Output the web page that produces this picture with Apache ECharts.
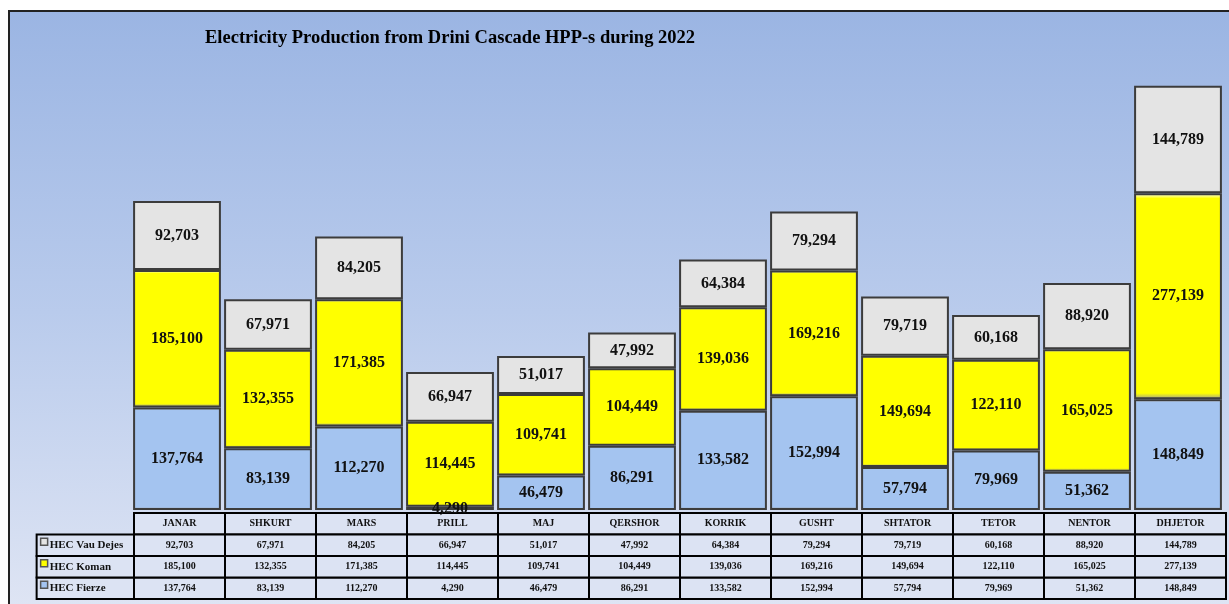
<!DOCTYPE html>
<html>
<head>
<meta charset="utf-8">
<script src="https://cdn.jsdelivr.net/npm/echarts@6/dist/echarts.min.js"></script>
<style>
  html, body { margin: 0; padding: 0; background: #fff; }
  #frame {
    position: absolute; left: 8px; top: 10px; width: 1230px; height: 600px;
    border-left: 2px solid #222; border-top: 2px solid #222;
    background: linear-gradient(#9bb5e3, #b9cbec 50%, #dfe5f4);
  }
  #chart { position: absolute; left: 0; top: 0; width: 1229px; height: 604px; }
</style>
</head>
<body>
<div id="frame"></div>
<div id="chart"></div>
<script>
// monthly production (MWh) per plant
const months = ['JANAR', 'SHKURT', 'MARS', 'PRILL', 'MAJ', 'QERSHOR', 'KORRIK', 'GUSHT', 'SHTATOR', 'TETOR', 'NENTOR', 'DHJETOR'];
const fierze = [137764, 83139, 112270, 4290, 46479, 86291, 133582, 152994, 57794, 79969, 51362, 148849];
const koman = [185100, 132355, 171385, 114445, 109741, 104449, 139036, 169216, 149694, 122110, 165025, 277139];
const vauDejes = [92703, 67971, 84205, 66947, 51017, 47992, 64384, 79294, 79719, 60168, 88920, 144789];
const names = ['HEC Fierze', 'HEC Koman', 'HEC Vau Dejes'];
const colors = ['#a4c4f0', '#ffff00', '#e4e4e4'];

const fmt = v => v.toLocaleString('en-US');
const serif = '"Liberation Serif", "Times New Roman", serif';

function bevel(base) {
    return new echarts.graphic.LinearGradient(0, 0, 0, 1, [
        { offset: 0, color: '#ffffff' },
        { offset: 0.025, color: base },
        { offset: 0.97, color: base },
        { offset: 1, color: '#9a9a9a' }
    ]);
}

function barSeries(name, data, base) {
    return {
        name: name,
        type: 'bar',
        stack: 'total',
        barCategoryGap: '3.5%',
        data: data,
        itemStyle: { color: bevel(base), borderColor: '#3c3c3c', borderWidth: 2 },
        label: {
            show: true, position: 'inside', formatter: p => fmt(p.value),
            fontFamily: serif, fontWeight: 'bold', fontSize: 16, color: '#111'
        }
    };
}

// table cells: [col, row, text, kind]
const rows = [fierze, koman, vauDejes];
const cells = [];
months.forEach((m, i) => {
    cells.push([i, 3, m, 'head']);
    rows.forEach((r, k) => cells.push([i, k, fmt(r[i]), 'val']));
});
names.forEach((n, k) => cells.push([0, k, n, 'label', k]));

function renderCell(params, api) {
    const cell = cells[params.dataIndex];
    const c = api.coord([cell[0], cell[1]]);
    const s = api.size([1, 1]);
    if (cell[3] === 'label') {
        const lw = s[0] * 1.07;
        const x0 = c[0] - s[0] / 2 - lw;
        return {
            type: 'group',
            children: [
                { type: 'rect', shape: { x: x0, y: c[1] - s[1] / 2, width: lw, height: s[1] },
                  style: { fill: '#dce3f3', stroke: '#000', lineWidth: 2 } },
                { type: 'rect', shape: { x: x0 + 4, y: c[1] - 7, width: 7, height: 7 },
                  style: { fill: colors[cell[4]], stroke: '#555', lineWidth: 1.5 } },
                { type: 'text', style: { text: cell[2], x: x0 + 13, y: c[1], align: 'left', verticalAlign: 'middle',
                  font: 'bold 11px ' + serif, fill: '#111' } }
            ]
        };
    }
    return {
        type: 'group',
        children: [
            { type: 'rect', shape: { x: c[0] - s[0] / 2, y: c[1] - s[1] / 2, width: s[0], height: s[1] },
              style: { fill: '#dce3f3', stroke: '#000', lineWidth: 2 } },
            { type: 'text', style: { text: cell[2], x: c[0], y: c[1], align: 'center', verticalAlign: 'middle',
              font: 'bold 10px ' + serif, fill: '#111' } }
        ]
    };
}

const option = {
    animation: false,
    title: {
        text: 'Electricity Production from Drini Cascade HPP-s during 2022',
        left: 200, top: 24,
        textStyle: { fontFamily: serif, fontWeight: 'bold', fontSize: 18.5, color: '#000' }
    },
    grid: [
        { left: 131.5, right: 5.5, top: 64, bottom: 94 },
        { left: 134, right: 3, top: 513, bottom: 5 }
    ],
    xAxis: [
        { type: 'category', data: months, gridIndex: 0, axisLine: { show: false }, axisTick: { show: false }, axisLabel: { show: false } },
        { type: 'category', data: months, gridIndex: 1, axisLine: { show: false }, axisTick: { show: false }, axisLabel: { show: false } }
    ],
    yAxis: [
        { type: 'value', gridIndex: 0, min: 0, max: 600000, show: false },
        { type: 'category', gridIndex: 1, data: ['f', 'k', 'v', 'h'], show: false }
    ],
    series: [
        barSeries(names[0], fierze, colors[0]),
        barSeries(names[1], koman, colors[1]),
        barSeries(names[2], vauDejes, colors[2]),
        {
            type: 'custom', xAxisIndex: 1, yAxisIndex: 1,
            data: cells.map(c => [c[0], c[1]]),
            renderItem: renderCell
        }
    ]
};

echarts.init(document.getElementById('chart')).setOption(option);
</script>
</body>
</html>
